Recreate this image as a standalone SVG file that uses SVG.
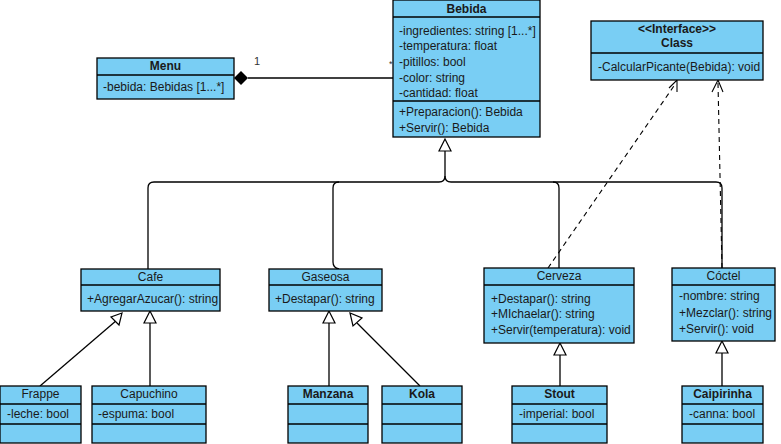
<svg xmlns="http://www.w3.org/2000/svg" width="781" height="444" viewBox="0 0 781 444">
  <style>
    .box { fill: #79CEF4; stroke: #000; stroke-width: 1.3; }
    .sep { stroke: #000; stroke-width: 1.3; }
    text { font-family: "Liberation Sans", Arial, sans-serif; font-size: 12px; fill: #1a1a1a; }
    .t { text-anchor: middle; }
    .b { font-weight: bold; }
    .ln { fill: none; stroke: #000; stroke-width: 1.3; }
    .dash { fill: none; stroke: #000; stroke-width: 1.1; stroke-dasharray: 5 4; }
    .tri { fill: #fff; stroke: #000; stroke-width: 1.2; }
    .open { fill: none; stroke: #000; stroke-width: 1.1; }
    .lbl { font-size: 11px; fill: #333; }
  </style>

  <!-- connectors -->
  <g id="connectors">
    <!-- composition Menu - Bebida -->
    <path class="ln" d="M248 78 H393"/>
    <polygon points="234,78 241,71 248,78 241,85" fill="#000"/>
    <text class="lbl" x="254" y="65">1</text>
    <rect x="388" y="57" width="6" height="11" fill="#fff"/>
    <text class="lbl" x="389" y="67" style="font-size:9px">*</text>

    <!-- generalization tree to Bebida -->
    <path class="ln" d="M445 151 V176 Q445 182 439 182 H154 Q148 182 148 188 V269"/>
    <path class="ln" d="M445 176 Q445 182 451 182 H553 Q559 182 559 188 V268"/>
    <path class="ln" d="M553 182 H716 Q722 182 722 188 V268"/>
    <path class="ln" d="M339 182 Q333 182 333 188 V262 Q333 268 339 269"/>
    <polygon class="tri" points="445,139 439,151 451,151"/>

    <!-- realizations to interface -->
    <path class="dash" d="M548 268 L676 83"/>
    <path class="open" d="M669 88 L677 80 L677 92"/>
    <path class="dash" d="M722 268 L718 83"/>
    <path class="open" d="M712 92 L718 80 L723 92"/>

    <!-- Cafe subclasses -->
    <path class="ln" d="M40 386 L117 320"/>
    <polygon class="tri" points="122,313 111,317 119,325"/>
    <path class="ln" d="M150 386 V323"/>
    <polygon class="tri" points="150,311 144,323 156,323"/>

    <!-- Gaseosa subclasses -->
    <path class="ln" d="M329 386 V323"/>
    <polygon class="tri" points="329,311 323,323 335,323"/>
    <path class="ln" d="M420 386 L357 323"/>
    <polygon class="tri" points="350,313 353,326 362,318"/>

    <!-- Stout / Caipirinha -->
    <path class="ln" d="M560 386 V355"/>
    <polygon class="tri" points="560,343 554,355 566,355"/>
    <path class="ln" d="M722 386 V353"/>
    <polygon class="tri" points="722,341 716,353 728,353"/>
  </g>

  <!-- Bebida -->
  <g id="bebida">
    <rect class="box" x="393" y="0" width="147" height="137"/>
    <line class="sep" x1="393" y1="17" x2="540" y2="17"/>
    <line class="sep" x1="393" y1="101" x2="540" y2="101"/>
    <text class="t b" x="466.5" y="13">Bebida</text>
    <text x="399" y="35">-ingredientes: string [1...*]</text>
    <text x="399" y="50">-temperatura: float</text>
    <text x="399" y="66">-pitillos: bool</text>
    <text x="399" y="82">-color: string</text>
    <text x="399" y="97">-cantidad: float</text>
    <text x="399" y="116">+Preparacion(): Bebida</text>
    <text x="399" y="132">+Servir(): Bebida</text>
  </g>

  <!-- Interface -->
  <g id="interface">
    <rect class="box" x="591" y="21" width="172" height="59"/>
    <line class="sep" x1="591" y1="53" x2="763" y2="53"/>
    <text class="t b" x="677" y="33">&lt;&lt;Interface&gt;&gt;</text>
    <text class="t b" x="677" y="47">Class</text>
    <text x="598" y="71">-CalcularPicante(Bebida): void</text>
  </g>

  <!-- Menu -->
  <g id="menu">
    <rect class="box" x="97" y="58" width="137" height="41"/>
    <line class="sep" x1="97" y1="75" x2="234" y2="75"/>
    <text class="t b" x="165.5" y="70">Menu</text>
    <text x="103" y="91">-bebida: Bebidas [1...*]</text>
  </g>

  <!-- Cafe -->
  <g id="cafe">
    <rect class="box" x="81" y="269" width="139" height="42"/>
    <line class="sep" x1="81" y1="285" x2="220" y2="285"/>
    <text class="t" x="150.5" y="281">Cafe</text>
    <text x="87" y="303">+AgregarAzucar(): string</text>
  </g>

  <!-- Gaseosa -->
  <g id="gaseosa">
    <rect class="box" x="269" y="269" width="113" height="42"/>
    <line class="sep" x1="269" y1="285" x2="382" y2="285"/>
    <text class="t" x="325.5" y="281">Gaseosa</text>
    <text x="275" y="303">+Destapar(): string</text>
  </g>

  <!-- Cerveza -->
  <g id="cerveza">
    <rect class="box" x="484" y="268" width="150" height="75"/>
    <line class="sep" x1="484" y1="285" x2="634" y2="285"/>
    <text class="t" x="559" y="280">Cerveza</text>
    <text x="491" y="303">+Destapar(): string</text>
    <text x="491" y="318">+MIchaelar(): string</text>
    <text x="491" y="334">+Servir(temperatura): void</text>
  </g>

  <!-- Coctel -->
  <g id="coctel">
    <rect class="box" x="672" y="268" width="103" height="73"/>
    <line class="sep" x1="672" y1="285" x2="775" y2="285"/>
    <text class="t" x="723.5" y="280">Cóctel</text>
    <text x="679" y="300">-nombre: string</text>
    <text x="679" y="317">+Mezclar(): string</text>
    <text x="679" y="333">+Servir(): void</text>
  </g>

  <!-- Frappe -->
  <g id="frappe">
    <rect class="box" x="0" y="386" width="81" height="57"/>
    <line class="sep" x1="0" y1="404" x2="81" y2="404"/>
    <line class="sep" x1="0" y1="424" x2="81" y2="424"/>
    <text class="t" x="40.5" y="398">Frappe</text>
    <text x="7" y="418">-leche: bool</text>
  </g>

  <!-- Capuchino -->
  <g id="capuchino">
    <rect class="box" x="92" y="386" width="114" height="57"/>
    <line class="sep" x1="92" y1="404" x2="206" y2="404"/>
    <line class="sep" x1="92" y1="424" x2="206" y2="424"/>
    <text class="t" x="149" y="398">Capuchino</text>
    <text x="98" y="418">-espuma: bool</text>
  </g>

  <!-- Manzana -->
  <g id="manzana">
    <rect class="box" x="288" y="386" width="80" height="57"/>
    <line class="sep" x1="288" y1="404" x2="368" y2="404"/>
    <line class="sep" x1="288" y1="424" x2="368" y2="424"/>
    <text class="t b" x="328" y="398">Manzana</text>
  </g>

  <!-- Kola -->
  <g id="kola">
    <rect class="box" x="382" y="386" width="80" height="57"/>
    <line class="sep" x1="382" y1="404" x2="462" y2="404"/>
    <line class="sep" x1="382" y1="424" x2="462" y2="424"/>
    <text class="t b" x="422" y="398">Kola</text>
  </g>

  <!-- Stout -->
  <g id="stout">
    <rect class="box" x="512" y="386" width="95" height="57"/>
    <line class="sep" x1="512" y1="404" x2="607" y2="404"/>
    <line class="sep" x1="512" y1="424" x2="607" y2="424"/>
    <text class="t b" x="559.5" y="398">Stout</text>
    <text x="519" y="418">-imperial: bool</text>
  </g>

  <!-- Caipirinha -->
  <g id="caipirinha">
    <rect class="box" x="682" y="386" width="81" height="57"/>
    <line class="sep" x1="682" y1="404" x2="763" y2="404"/>
    <line class="sep" x1="682" y1="424" x2="763" y2="424"/>
    <text class="t b" x="722.5" y="398">Caipirinha</text>
    <text x="689" y="418">-canna: bool</text>
  </g>
</svg>
